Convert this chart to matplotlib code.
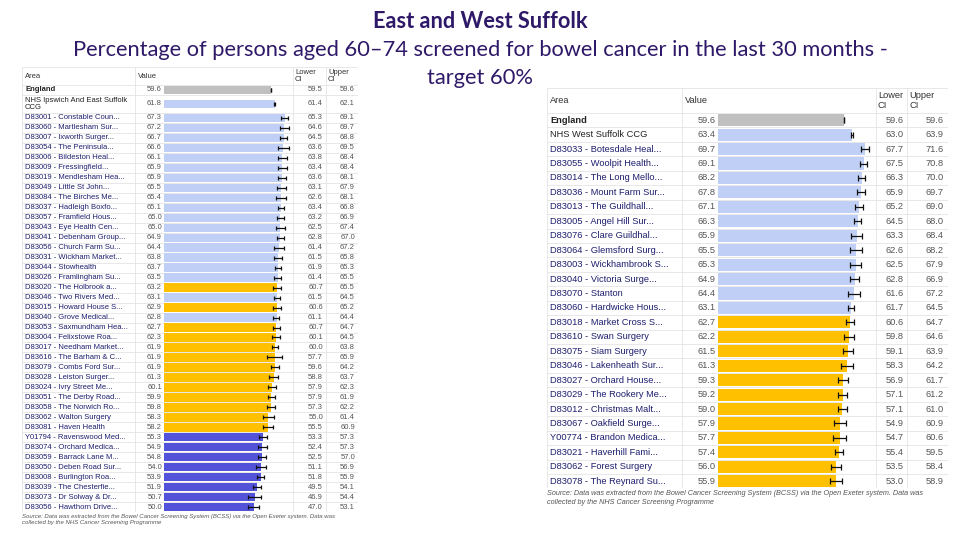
import matplotlib
matplotlib.use('Agg')
import matplotlib.pyplot as plt
import numpy as np

W, H = 960, 540

# colour groups: eng = England, light = better, amber = similar, dark = worse
COLORS = {'eng': '#C0C0C0', 'light': '#BFCFF5', 'amber': '#FFC000', 'dark': '#5353DA'}

# East Suffolk (Ipswich and East Suffolk CCG)
east_areas = ['England', 'NHS Ipswich And East Suffolk\nCCG',
              'D83001 - Constable Coun...', 'D83060 - Martlesham Sur...', 'D83007 - Ixworth Surger...',
              'D83054 - The Peninsula...', 'D83006 - Bildeston Heal...', 'D83009 - Fressingfield...',
              'D83019 - Mendlesham Hea...', 'D83049 - Little St John...', 'D83084 - The Birches Me...',
              'D83037 - Hadleigh Boxfo...', 'D83057 - Framfield Hous...', 'D83043 - Eye Health Cen...',
              'D83041 - Debenham Group...', 'D83056 - Church Farm Su...', 'D83031 - Wickham Market...',
              'D83044 - Stowhealth', 'D83026 - Framlingham Su...', 'D83020 - The Holbrook a...',
              'D83046 - Two Rivers Med...', 'D83015 - Howard House S...', 'D83040 - Grove Medical...',
              'D83053 - Saxmundham Hea...', 'D83004 - Felixstowe Roa...', 'D83017 - Needham Market...',
              'D83616 - The Barham & C...', 'D83079 - Combs Ford Sur...', 'D83028 - Leiston Surger...',
              'D83024 - Ivry Street Me...', 'D83051 - The Derby Road...', 'D83058 - The Norwich Ro...',
              'D83062 - Walton Surgery', 'D83081 - Haven Health', 'Y01794 - Ravenswood Med...',
              'D83074 - Orchard Medica...', 'D83059 - Barrack Lane M...', 'D83050 - Deben Road Sur...',
              'D83008 - Burlington Roa...', 'D83039 - The Chesterfie...', 'D83073 - Dr Solway & Dr...',
              'D83056 - Hawthorn Drive...']
east_values = [59.6, 61.8, 67.3, 67.2, 66.7, 66.6, 66.1, 65.9, 65.9, 65.5, 65.4, 65.1, 65.0, 65.0,
               64.9, 64.4, 63.8, 63.7, 63.5, 63.2, 63.1, 62.9, 62.8, 62.7, 62.3, 61.9, 61.9, 61.9,
               61.3, 60.1, 59.9, 59.8, 58.3, 58.2, 55.3, 54.9, 54.8, 54.0, 53.9, 51.9, 50.7, 50.0]
east_lower = [59.5, 61.4, 65.3, 64.6, 64.5, 63.6, 63.8, 63.4, 63.6, 63.1, 62.6, 63.4, 63.2, 62.5,
              62.8, 61.4, 61.5, 61.9, 61.4, 60.7, 61.5, 60.6, 61.1, 60.7, 60.1, 60.0, 57.7, 59.6,
              58.8, 57.9, 57.9, 57.3, 55.0, 55.5, 53.3, 52.4, 52.5, 51.1, 51.8, 49.5, 46.9, 47.0]
east_upper = [59.6, 62.1, 69.1, 69.7, 68.8, 69.5, 68.4, 68.4, 68.1, 67.9, 68.1, 66.8, 66.9, 67.4,
              67.0, 67.2, 65.8, 65.3, 65.5, 65.5, 64.5, 65.2, 64.4, 64.7, 64.5, 63.8, 65.9, 64.2,
              63.7, 62.3, 61.9, 62.2, 61.4, 60.9, 57.3, 57.3, 57.0, 56.9, 55.9, 54.1, 54.4, 53.1]
east_groups = (['eng'] + ['light'] * 18 + ['amber', 'light', 'amber', 'light'] +
               ['amber'] * 11 + ['dark'] * 8)

# West Suffolk CCG
west_areas = ['England', 'NHS West Suffolk CCG',
              'D83033 - Botesdale Heal...', 'D83055 - Woolpit Health...', 'D83014 - The Long Mello...',
              'D83036 - Mount Farm Sur...', 'D83013 - The Guildhall...', 'D83005 - Angel Hill Sur...',
              'D83076 - Clare Guildhal...', 'D83064 - Glemsford Surg...', 'D83003 - Wickhambrook S...',
              'D83040 - Victoria Surge...', 'D83070 - Stanton', 'D83060 - Hardwicke Hous...',
              'D83018 - Market Cross S...', 'D83610 - Swan Surgery', 'D83075 - Siam Surgery',
              'D83046 - Lakenheath Sur...', 'D83027 - Orchard House...', 'D83029 - The Rookery Me...',
              'D83012 - Christmas Malt...', 'D83067 - Oakfield Surge...', 'Y00774 - Brandon Medica...',
              'D83021 - Haverhill Fami...', 'D83062 - Forest Surgery', 'D83078 - The Reynard Su...']
west_values = [59.6, 63.4, 69.7, 69.1, 68.2, 67.8, 67.1, 66.3, 65.9, 65.5, 65.3, 64.9, 64.4, 63.1,
               62.7, 62.2, 61.5, 61.3, 59.3, 59.2, 59.0, 57.9, 57.7, 57.4, 56.0, 55.9]
west_lower = [59.6, 63.0, 67.7, 67.5, 66.3, 65.9, 65.2, 64.5, 63.3, 62.6, 62.5, 62.8, 61.6, 61.7,
              60.6, 59.8, 59.1, 58.3, 56.9, 57.1, 57.1, 54.9, 54.7, 55.4, 53.5, 53.0]
west_upper = [59.6, 63.9, 71.6, 70.8, 70.0, 69.7, 69.0, 68.0, 68.4, 68.2, 67.9, 66.9, 67.2, 64.5,
              64.7, 64.6, 63.9, 64.2, 61.7, 61.2, 61.0, 60.9, 60.6, 59.5, 58.4, 58.9]
west_groups = ['eng'] + ['light'] * 13 + ['amber'] * 12

SOURCE = ('Source: Data was extracted from the Bowel Cancer Screening System (BCSS) via the Open Exeter system. '
          'Data was\ncollected by the NHS Cancer Screening Programme')

TEXT_FONT = ['Liberation Sans', 'DejaVu Sans']
GRID = '#E4E4E4'


def px_axes(fig, x0, x1, y0, y1):
    return fig.add_axes([x0 / W, 1 - y1 / H, (x1 - x0) / W, (y1 - y0) / H])


def draw_table(fig, lay, areas, values, lower, upper, groups, heights):
    top, hb, rh = lay['top'], lay['head_bottom'], lay['row_h']
    heights = np.array(heights, dtype=float) * rh
    edges = hb + np.concatenate([[0], np.cumsum(heights)])
    centers = (edges[:-1] + edges[1:]) / 2
    bottom = edges[-1]
    fs = lay['fs']

    # frame in pixel coordinates for the text columns and grid
    fr = px_axes(fig, lay['left'], lay['right'], top, bottom)
    fr.set_xlim(lay['left'], lay['right'])
    fr.set_ylim(bottom, top)
    fr.axis('off')
    for e in edges:
        fr.plot([lay['left'], lay['right']], [e, e], color=GRID, lw=0.6, zorder=0)
    fr.plot([lay['left'], lay['right']], [top, top], color=GRID, lw=0.6)
    for x in [lay['left'], lay['sep1'], lay['bar_r'], lay['sep3'], lay['right']]:
        fr.plot([x, x], [top, bottom], color=GRID, lw=0.6, zorder=0)

    hy = (top + hb) / 2
    fr.text(lay['left'] + 3, hy, 'Area', fontsize=fs, va='center', family=TEXT_FONT, color='#333333')
    fr.text(lay['sep1'] + 3, hy, 'Value', fontsize=fs, va='center', family=TEXT_FONT, color='#333333')
    fr.text(lay['bar_r'] + 2, hy, 'Lower\nCI', fontsize=fs, va='center', family=TEXT_FONT,
            color='#333333', linespacing=1.0)
    fr.text(lay['sep3'] + 2, hy, 'Upper\nCI', fontsize=fs, va='center', family=TEXT_FONT,
            color='#333333', linespacing=1.0)

    for i, (a, v, lo, up, g) in enumerate(zip(areas, values, lower, upper, groups)):
        y = centers[i]
        col = '#1E1E6E' if i >= 2 else '#222222'
        fr.text(lay['left'] + 3, y, a, fontsize=fs, va='center', family=TEXT_FONT, color=col,
                fontweight='bold' if i == 0 else 'normal', linespacing=1.1)
        fr.text(lay['val_right'], y, f'{v:.1f}', fontsize=fs, va='center', ha='right',
                family=TEXT_FONT, color='#555555')
        fr.text(lay['lo_right'], y, f'{lo:.1f}', fontsize=fs, va='center', ha='right',
                family=TEXT_FONT, color='#555555')
        fr.text(lay['up_right'], y, f'{up:.1f}', fontsize=fs, va='center', ha='right',
                family=TEXT_FONT, color='#555555')

    # bars
    bx = px_axes(fig, lay['bar_l'], lay['bar_r'], top, bottom)
    bx.set_xlim(0, lay['xmax'])
    bx.set_ylim(bottom, top)
    bx.axis('off')
    v = np.array(values)
    bx.barh(centers, v, height=rh * 0.84, color=[COLORS[g] for g in groups], zorder=2)
    bx.errorbar(v, centers, xerr=[v - np.array(lower), np.array(upper) - v], fmt='none',
                ecolor='#111111', elinewidth=0.9, capsize=lay['cap'], capthick=0.9, zorder=3)

    fig.text(lay['left'] / W, 1 - (bottom + lay['src_gap']) / H, SOURCE, fontsize=lay['src_fs'],
             style='italic', color='#555555', va='top', family=TEXT_FONT, linespacing=1.3)


fig = plt.figure(figsize=(9.6, 5.4), dpi=100)
fig.patch.set_facecolor('white')

left_layout = dict(left=22, right=358, top=67, head_bottom=85, row_h=9.98, sep1=135, val_right=162,
                   bar_l=164, bar_r=293, lo_right=323, sep3=326, up_right=355, fs=5.5, xmax=72,
                   cap=1.6, src_fs=4.3, src_gap=1.5)
right_layout = dict(left=547, right=948, top=88, head_bottom=113, row_h=14.44, sep1=682, val_right=716,
                    bar_l=718, bar_r=876, lo_right=904, sep3=907, up_right=944, fs=6.7, xmax=75,
                    cap=2.4, src_fs=5.2, src_gap=2)

east_heights = [1, 1.8] + [1] * (len(east_areas) - 2)
west_heights = [1] * len(west_areas)

draw_table(fig, left_layout, east_areas, east_values, east_lower, east_upper, east_groups, east_heights)
draw_table(fig, right_layout, west_areas, west_values, west_lower, west_upper, west_groups, west_heights)

# titles, fitted to the widths seen in the reference
TITLE_COLOR = '#2E1868'
TITLE_FONT = ['Lato', 'DejaVu Sans']
renderer = fig.canvas.get_renderer()
titles = [('East and West Suffolk', 22, 216, 'bold'),
          ('Percentage of persons aged 60\u201374 screened for bowel cancer in the last 30 months -', 50, 822, 'normal'),
          ('target 60%', 78, 106, 'normal')]
for txt, y, width, weight in titles:
    t = fig.text(0.5, 1 - y / H, txt, ha='center', va='center', fontsize=14, color=TITLE_COLOR,
                 fontweight=weight, family=TITLE_FONT)
    w = t.get_window_extent(renderer).width
    t.set_fontsize(14 * width / w)

fig.savefig('out.png', dpi=100)
